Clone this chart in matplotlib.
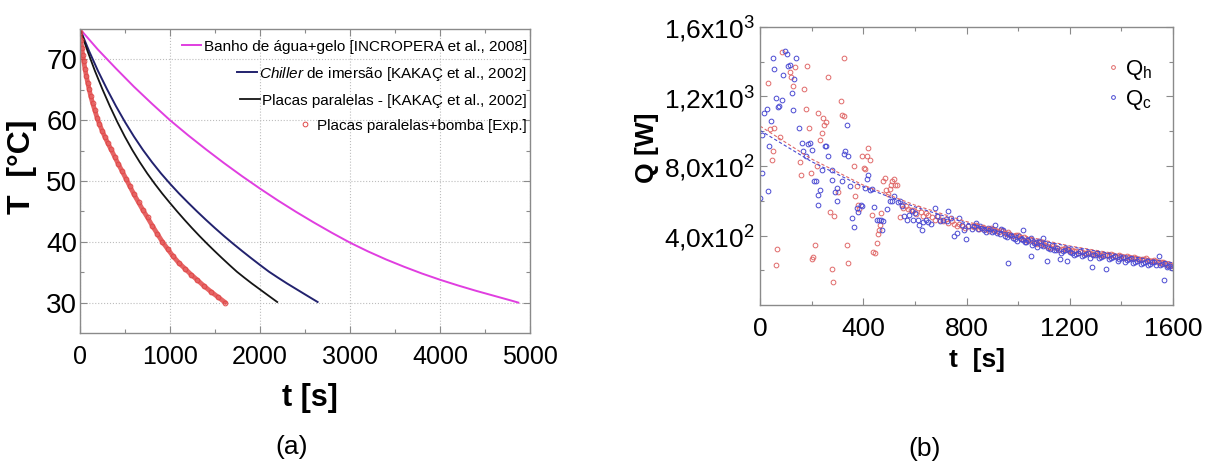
import matplotlib
matplotlib.use('Agg')
import matplotlib.pyplot as plt
from matplotlib.ticker import MultipleLocator, FixedLocator

# ---------------- data: panel (a) ----------------
t_banho = [0, 200, 400, 600, 800, 1000, 1200, 1400, 1600, 1800, 2000, 2200, 2400, 2600, 2800,
           3000, 3200, 3400, 3600, 3800, 4000, 4200, 4400, 4600, 4800, 4870]
T_banho = [75, 71.6, 68.5, 65.5, 62.7, 60.0, 57.54, 55.2, 52.95, 50.8, 48.75, 46.79, 44.93,
           43.16, 41.47, 39.86, 38.42, 37.1, 35.9, 34.78, 33.76, 32.82, 31.94, 31.12, 30.3, 30.0]

t_chiller = [0, 100, 200, 300, 400, 500, 600, 700, 800, 900, 1000, 1100, 1200, 1300, 1400,
             1500, 1600, 1700, 1800, 1900, 2000, 2100, 2200, 2300, 2400, 2500, 2640]
T_chiller = [75, 71.4, 68.1, 65.1, 62.3, 59.7, 57.3, 55.1, 53.1, 51.25, 49.55, 47.95, 46.45,
             45.0, 43.6, 42.25, 40.95, 39.7, 38.5, 37.33, 36.19, 35.08, 34.1, 33.15, 32.25,
             31.35, 30.1]

t_placas = [0, 83, 166, 249, 332, 415, 498, 581, 664, 747, 830, 913, 996, 1079, 1162, 1245,
            1328, 1411, 1494, 1577, 1660, 1743, 1826, 1909, 1992, 2075, 2191]
T_placas = [75, 71.4, 68.1, 65.1, 62.3, 59.7, 57.3, 55.1, 53.1, 51.25, 49.55, 47.95, 46.45,
            45.0, 43.6, 42.25, 40.95, 39.7, 38.5, 37.33, 36.19, 35.08, 34.1, 33.15, 32.25,
            31.35, 30.1]

t_exp = [0, 10, 20, 30, 40, 55, 70, 85, 100, 120, 140, 165, 190, 215, 245, 275, 310, 345,
         385, 425, 465, 510, 555, 600, 650, 700, 750, 805, 860, 915, 975, 1035, 1100, 1165,
         1235, 1305, 1380, 1455, 1535, 1615]
T_exp = [74.5, 73.2, 71.9, 70.8, 69.8, 68.5, 67.3, 66.2, 65.2, 63.9, 62.8, 61.6, 60.4, 59.4,
         58.3, 57.3, 56.2, 55.2, 54.0, 52.8, 51.7, 50.4, 49.1, 47.8, 46.5, 45.2, 44.0, 42.6,
         41.3, 40.0, 38.8, 37.6, 36.5, 35.6, 34.6, 33.7, 32.7, 31.8, 30.9, 30.0]

labels_a = ["Banho de água+gelo [INCROPERA et al., 2008]",
            r"$\it{Chiller}$ de imersão [KAKAÇ et al., 2002]",
            "Placas paralelas - [KAKAÇ et al., 2002]",
            "Placas paralelas+bomba [Exp.]"]

# ---------------- data: panel (b) ----------------
Qh_pts = [(32,1277),(39,1014),(45,832),(52,888),(56,1016),(62,228),(65,320),(77,966),(87,1458),
          (116,1340),(120,1315),(129,1261),(136,1372),(155,821),(159,750),(172,1242),(177,1127),
          (183,1376),(190,1018),(198,759),(203,266),(207,278),(213,343),(219,798),(226,1104),
          (232,947),(239,989),(243,1075),(249,1035),(254,1056),(262,1311),(271,534),(278,205),
          (281,132),(288,515),(304,649),(312,1175),(319,1095),(325,1424),(327,1085),(336,343),
          (342,239),(366,798),(368,626),(374,683),(381,578),(383,553),(394,859),(402,788),
          (407,782),(413,855),(420,903),(426,836),(433,520),(439,305),(445,301),(452,358),
          (458,406),(461,434),(465,463),(469,530),(475,712),(484,729),(489,664),(495,641),
          (504,668),(507,693),(513,714),(518,725),(523,693),(529,693),(542,507),(549,578),
          (555,559),(564,568),(575,555),(585,549),(594,545),(603,526),(613,559),(624,534),
          (633,511),(642,530),(652,520),(665,507),(678,492),(688,511),(697,492),(710,482),
          (720,496),(730,472),(743,482),(753,469),(762,453),(771,469),(781,453),(794,444),
          (807,453),(820,455),(835,462),(850,440),(865,448),(880,436),(895,442),(910,430),
          (925,418),(940,425),(955,410),(970,404),(985,396),(1000,402),(1015,380),(1030,372),
          (1045,378),(1060,360),(1075,352),(1090,358),(1105,345),(1120,336),(1135,340),
          (1150,328),(1165,322),(1180,330),(1195,315),(1210,318),(1225,308),(1240,312),
          (1255,300),(1270,306),(1285,296),(1300,302),(1315,290),(1330,296),(1345,288),
          (1360,292),(1375,280),(1390,286),(1405,278),(1420,284),(1435,270),(1450,276),
          (1465,266),(1480,262),(1495,270),(1510,255),(1525,258),(1540,246),(1555,250),
          (1570,238),(1585,232),(1600,225),
          (828,448),(842,452),(858,445),(872,440),(888,428),(902,436),(918,425),(932,430),
          (948,412),(962,418),(978,398),(992,405),(1008,388),(1022,392),(1038,368),(1052,372),
          (1068,355),(1082,362),(1098,350),(1112,340),(1128,330),(1142,335),(1158,318),
          (1172,325),(1188,320),(1202,310),(1218,312),(1232,302),(1248,305),(1262,298),
          (1278,300),(1292,292),(1308,295),(1322,285),(1338,290),(1352,282),(1368,286),
          (1382,276),(1398,282),(1412,272),(1428,278),(1442,268),(1458,272),(1472,260),
          (1488,265),(1502,258),(1518,252),(1532,255),(1548,242),(1562,245),(1578,232),
          (1592,228)]
Qc_pts = [(0,616),(6,760),(9,980),(17,1104),(26,1127),(32,654),(35,917),(41,1060),(49,1420),
          (56,1359),(61,1190),(68,1139),(74,1146),(84,1177),(90,1324),(97,1464),(103,1443),
          (110,1376),(116,1382),(123,1219),(129,1123),(133,1301),(139,1420),(151,1018),
          (161,932),(168,884),(178,855),(187,928),(194,932),(200,894),(210,716),(216,712),
          (224,578),(226,631),(232,664),(239,775),(252,917),(256,917),(262,859),(278,779),
          (280,721),(290,651),(297,674),(297,597),(316,712),(327,869),(329,888),(336,1037),
          (342,859),(349,683),(355,501),(366,450),(374,559),(381,534),(391,578),(396,568),
          (407,674),(413,725),(420,750),(426,664),(435,668),(443,564),(452,491),(461,491),
          (469,491),(474,434),(478,482),(491,555),(504,597),(513,597),(520,626),(533,591),
          (542,597),(549,568),(559,511),(568,492),(577,520),(588,540),(594,492),(600,530),
          (613,492),(617,463),(626,431),(633,476),(642,492),(652,476),(662,469),(678,559),
          (685,511),(697,482),(710,492),(723,482),(730,540),(740,501),(753,397),(762,415),
          (771,501),(781,463),(792,434),(798,382),(807,453),(822,440),(838,470),(852,452),
          (868,430),(882,445),(898,418),(912,462),(928,410),(942,432),(958,392),(962,243),
          (972,402),(988,380),(1002,395),(1018,372),(1020,430),(1032,360),(1048,281),
          (1050,385),(1062,355),(1072,335),(1080,368),(1095,386),(1098,340),(1111,252),
          (1115,330),(1130,345),(1145,318),(1162,266),(1175,310),(1191,252),(1195,325),
          (1210,300),(1225,295),(1240,310),(1255,288),(1270,298),(1285,220),(1290,285),
          (1305,300),(1320,278),(1340,205),(1345,290),(1360,272),(1375,282),(1392,265),
          (1408,276),(1420,260),(1438,270),(1452,248),(1468,262),(1482,240),(1498,255),
          (1512,236),(1528,248),(1547,281),(1550,228),(1565,143),(1568,240),(1582,222),
          (1596,212),
          (830,455),(845,438),(860,442),(875,420),(890,435),(905,428),(920,415),(935,440),
          (950,400),(965,410),(980,388),(995,370),(1010,382),(1025,362),(1040,372),(1055,348),
          (1068,360),(1088,345),(1105,355),(1122,322),(1138,315),(1152,330),(1168,300),
          (1182,318),(1200,305),(1218,290),(1232,300),(1248,280),(1262,292),(1278,270),
          (1298,290),(1312,272),(1330,282),(1352,262),(1368,275),(1385,255),(1400,268),
          (1415,250),(1430,262),(1445,242),(1460,255),(1475,238),(1490,248),(1505,230),
          (1520,245),(1535,228),(1558,235),(1575,220),(1590,225)]
t_fit = [0, 200, 400, 600, 800, 1000, 1200, 1400, 1600]
Qh_fit = [1030, 840, 690, 575, 480, 405, 340, 290, 245]
Qc_fit = [1005, 825, 680, 565, 472, 398, 336, 287, 243]

yticks_b = [400, 800, 1200, 1600]
yticklabels_b = [r"4,0x10$^2$", r"8,0x10$^2$", r"1,2x10$^3$", r"1,6x10$^3$"]
xticks_b = [0, 400, 800, 1200, 1600]

# ---------------- style ----------------
plt.rcParams['font.family'] = ['Liberation Sans', 'DejaVu Sans']
plt.rcParams['mathtext.fontset'] = 'custom'
plt.rcParams['mathtext.rm'] = 'Liberation Sans'
plt.rcParams['mathtext.it'] = 'Liberation Sans:italic'
plt.rcParams['mathtext.bf'] = 'Liberation Sans:bold'

W, H = 1209, 466
fig = plt.figure(figsize=(W/100, H/100), dpi=100)
ax1 = fig.add_axes([80/W, 1-333/H, 450/W, 304/H])
ax2 = fig.add_axes([760/W, 1-305/H, 413/W, 278/H])

spine_col = '#8a8a8a'
for ax in (ax1, ax2):
    for s in ax.spines.values():
        s.set_color(spine_col)
        s.set_linewidth(1.0)
    ax.tick_params(which='both', direction='in', top=True, right=True, color=spine_col)
    ax.tick_params(which='major', length=5, width=0.8)
    ax.tick_params(which='minor', length=3, width=0.8)

# ---------------- panel (a) ----------------
c_mag = '#e03ee0'
c_navy = '#22226e'
c_blk = '#151515'
c_red = '#dd3030'
ax1.plot(t_banho, T_banho, color=c_mag, lw=1.4, label=labels_a[0])
ax1.plot(t_chiller, T_chiller, color=c_navy, lw=1.4, label=labels_a[1])
ax1.plot(t_placas, T_placas, color=c_blk, lw=1.3, label=labels_a[2])
ax1.plot(t_exp, T_exp, color=c_red, lw=3.4, alpha=0.75, solid_capstyle='round')
ax1.plot(t_exp, T_exp, 'o', mfc='none', mec='#e04848', ms=3.4, mew=0.7, label=labels_a[3])
ax1.set_xlim(0, 5000)
ax1.set_ylim(25, 75)
ax1.xaxis.set_major_locator(MultipleLocator(1000))
ax1.xaxis.set_minor_locator(MultipleLocator(500))
ax1.yaxis.set_major_locator(FixedLocator([30, 40, 50, 60, 70]))
ax1.yaxis.set_minor_locator(FixedLocator([35, 45, 55, 65]))
ax1.grid(True, which='major', color='#bdbdbd', linestyle=':', linewidth=0.8)
ax1.tick_params(axis='x', labelsize=18, pad=9)
ax1.tick_params(axis='y', labelsize=20, pad=2)
ax1.set_xlabel('t [s]', fontsize=22, fontweight='bold')
ax1.xaxis.label.set_va('center')
ax1.xaxis.set_label_coords((310-80)/450, -(398-333)/304)
ax1.set_ylabel('T  [°C]', fontsize=23, fontweight='bold')
ax1.yaxis.label.set_va('center')
ax1.yaxis.set_label_coords((22-80)/450, (333-167)/304)

leg = ax1.legend(loc='upper right', bbox_to_anchor=(1.0, 0.975), frameon=False, fontsize=11,
                 handlelength=1.3, handletextpad=0.15, labelspacing=0.72, borderaxespad=0.0,
                 borderpad=0.2)
for col in leg._legend_handle_box.get_children():
    col.align = 'right'

# ---------------- panel (b) ----------------
c_qh = '#e06a6a'
c_qc = '#4a4ad2'
ax2.plot([p[0] for p in Qh_pts], [p[1] for p in Qh_pts], 'o', mfc='none', mec=c_qh, ms=3.4,
         mew=0.7, label=r'Q$_\mathregular{h}$')
ax2.plot([p[0] for p in Qc_pts], [p[1] for p in Qc_pts], 'o', mfc='none', mec=c_qc, ms=3.4,
         mew=0.7, label=r'Q$_\mathregular{c}$')
ax2.plot(t_fit, Qh_fit, color=c_qh, lw=0.8, dashes=(3, 2))
ax2.plot(t_fit, Qc_fit, color=c_qc, lw=0.8, dashes=(3, 2))
ax2.set_xlim(0, 1600)
ax2.set_ylim(0, 1600)
ax2.set_xticks(xticks_b)
ax2.xaxis.set_minor_locator(MultipleLocator(200))
ax2.set_yticks(yticks_b)
ax2.set_yticklabels(yticklabels_b)
ax2.yaxis.set_minor_locator(FixedLocator([200, 600, 1000, 1400]))
ax2.tick_params(axis='both', labelsize=19)
ax2.tick_params(axis='x', pad=9)
ax2.tick_params(axis='y', pad=4)
ax2.set_xlabel('t  [s]', fontsize=19, fontweight='bold')
ax2.xaxis.label.set_va('center')
ax2.xaxis.set_label_coords((977-760)/413, -(360-305)/278)
ax2.set_ylabel('Q [W]', fontsize=19, fontweight='bold')
ax2.yaxis.label.set_va('center')
ax2.yaxis.set_label_coords((647-760)/413, (305-148)/278)
leg2 = ax2.legend(loc='upper left', bbox_to_anchor=((1106-760)/413, (305-58)/278), frameon=False,
                  fontsize=16, handlelength=0.6, handletextpad=0.25, labelspacing=0.25,
                  borderaxespad=0.0, borderpad=0.0, markerscale=0.8)

fig.text(292/W, 1-447/H, '(a)', ha='center', va='center', fontsize=19)
fig.text(925/W, 1-449/H, '(b)', ha='center', va='center', fontsize=19)

fig.savefig('out.png', dpi=100)
